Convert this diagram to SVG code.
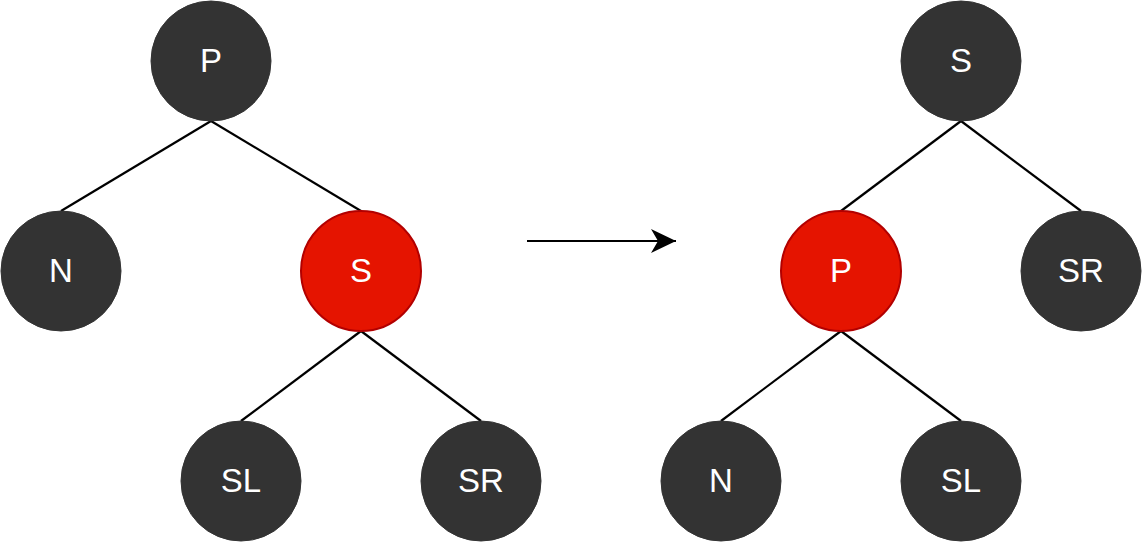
<svg xmlns="http://www.w3.org/2000/svg" width="1143" height="543" viewBox="0 0 1143 543">
<style>
.b{fill:#333333;stroke:#333333;stroke-width:1}
.r{fill:#e51400;stroke:#b20000;stroke-width:2}
.t{fill:#ffffff;font-family:"Liberation Sans",Arial,sans-serif;font-size:33px;text-anchor:middle}
.e{stroke:#000000;stroke-width:2.2;fill:none}
</style>
<defs>
<marker id="ah" markerWidth="26" markerHeight="26" refX="25" refY="12" orient="auto" markerUnits="userSpaceOnUse">
<path d="M0,0 L25,12 L0,24 L7,12 Z" fill="#000000"/>
</marker>
</defs>
<g id="connectors">
<line class="e" x1="211" y1="121" x2="61" y2="211"/>
<line class="e" x1="211" y1="121" x2="361" y2="211"/>
<line class="e" x1="361" y1="331" x2="241" y2="421"/>
<line class="e" x1="361" y1="331" x2="481" y2="421"/>
<line class="e" x1="961" y1="121" x2="841" y2="211"/>
<line class="e" x1="961" y1="121" x2="1081" y2="211"/>
<line class="e" x1="841" y1="331" x2="721" y2="421"/>
<line class="e" x1="841" y1="331" x2="961" y2="421"/>
<line class="e" x1="527" y1="241" x2="676" y2="241" marker-end="url(#ah)"/>
</g>
<g id="l-P"><circle class="b" cx="211" cy="61" r="60"/><text class="t" x="211" y="72">P</text></g>
<g id="l-N"><circle class="b" cx="61" cy="271" r="60"/><text class="t" x="61" y="282">N</text></g>
<g id="l-S"><circle class="r" cx="361" cy="271" r="60"/><text class="t" x="361" y="282">S</text></g>
<g id="l-SL"><circle class="b" cx="241" cy="481" r="60"/><text class="t" x="241" y="492">SL</text></g>
<g id="l-SR"><circle class="b" cx="481" cy="481" r="60"/><text class="t" x="481" y="492">SR</text></g>
<g id="r-S"><circle class="b" cx="961" cy="61" r="60"/><text class="t" x="961" y="72">S</text></g>
<g id="r-P"><circle class="r" cx="841" cy="271" r="60"/><text class="t" x="841" y="282">P</text></g>
<g id="r-SR"><circle class="b" cx="1081" cy="271" r="60"/><text class="t" x="1081" y="282">SR</text></g>
<g id="r-N"><circle class="b" cx="721" cy="481" r="60"/><text class="t" x="721" y="492">N</text></g>
<g id="r-SL"><circle class="b" cx="961" cy="481" r="60"/><text class="t" x="961" y="492">SL</text></g>
</svg>
